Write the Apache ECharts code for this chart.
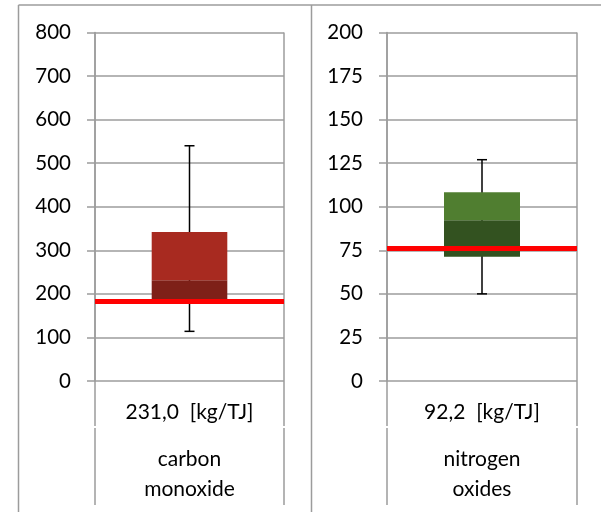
<!DOCTYPE html>
<html>
<head>
<meta charset="utf-8">
<script src="https://cdn.jsdelivr.net/npm/echarts@6/dist/echarts.min.js"></script>
<style>
  html, body { margin: 0; padding: 0; background: #ffffff; }
  #chart { width: 601px; height: 512px; }
</style>
</head>
<body>
<div id="chart"></div>
<script>
// Emission factor distributions, one panel per pollutant
const pollutants   = ['carbon\nmonoxide', 'nitrogen\noxides'];
const valueLabels  = ['231,0  [kg/TJ]', '92,2  [kg/TJ]'];
const whiskerLow   = [114, 50];
const quartile1    = [186, 71.3];
const median       = [231.0, 92.2];
const quartile3    = [342, 108.3];
const whiskerHigh  = [540, 127];
const referenceVal = [182, 76];
const axisMax      = [800, 200];
const axisStep     = [100, 25];
const boxUpper     = ['#a82a20', '#507e30'];
const boxLower     = ['#7e2018', '#335220'];

const GRID_COLOR = '#9c9c9c';
const FONT = 'Lato';

const grids = [
  { left: 95,  right: 317, top: 32.5, bottom: 131 },
  { left: 387, right: 24,  top: 32.5, bottom: 131 }
];

const xAxes = [];
const yAxes = [];
const series = [];

pollutants.forEach((name, i) => {
  // value label row directly under the plot
  xAxes.push({
    type: 'category', gridIndex: i, data: [valueLabels[i]],
    boundaryGap: true,
    axisLine: { show: false },
    axisTick: { show: true, length: 45, lineStyle: { color: GRID_COLOR, width: 1.5 } },
    splitLine: { show: true, lineStyle: { color: GRID_COLOR, width: 1.5 } },
    axisLabel: { margin: 21, color: '#000', fontFamily: FONT, fontSize: 21, interval: 0 }
  });
  // pollutant name row
  xAxes.push({
    type: 'category', gridIndex: i, data: [name], position: 'bottom', offset: 47,
    boundaryGap: true,
    axisLine: { show: false },
    axisTick: { show: true, length: 77, lineStyle: { color: GRID_COLOR, width: 1.5 } },
    splitLine: { show: false },
    axisLabel: { margin: 16, color: '#000', fontFamily: FONT, fontSize: 21, lineHeight: 30, interval: 0 }
  });
  yAxes.push({
    type: 'value', gridIndex: i, min: 0, max: axisMax[i], interval: axisStep[i],
    axisLine: { show: true, lineStyle: { color: GRID_COLOR, width: 1.5 } },
    axisTick: { show: true, length: 8, lineStyle: { color: GRID_COLOR, width: 1.5 } },
    splitLine: { show: true, lineStyle: { color: GRID_COLOR, width: 1.5 } },
    axisLabel: { margin: 24, color: '#000', fontFamily: FONT, fontSize: 20.5 }
  });

  const xi = i * 2;
  // whisker: vertical line from low to high with caps
  series.push({
    type: 'custom', xAxisIndex: xi, yAxisIndex: i, z: 1,
    data: [[0, whiskerLow[i], whiskerHigh[i]]],
    renderItem: (params, api) => {
      const lo = api.coord([api.value(0), api.value(1)]);
      const hi = api.coord([api.value(0), api.value(2)]);
      const cap = 5;
      const style = { stroke: '#000', lineWidth: 1.5 };
      return {
        type: 'group',
        children: [
          { type: 'line', shape: { x1: lo[0], y1: lo[1], x2: hi[0], y2: hi[1] }, style },
          { type: 'line', shape: { x1: lo[0] - cap, y1: lo[1], x2: lo[0] + cap, y2: lo[1] }, style },
          { type: 'line', shape: { x1: hi[0] - cap, y1: hi[1], x2: hi[0] + cap, y2: hi[1] }, style }
        ]
      };
    }
  });
  // box as stacked bars
  series.push({
    type: 'bar', xAxisIndex: xi, yAxisIndex: i, stack: 'box' + i, z: 2,
    barWidth: '40%', data: [quartile1[i]],
    itemStyle: { color: 'rgba(0,0,0,0)' }, silent: true
  });
  series.push({
    type: 'bar', xAxisIndex: xi, yAxisIndex: i, stack: 'box' + i, z: 2,
    barWidth: '40%', data: [+(median[i] - quartile1[i]).toFixed(2)],
    itemStyle: { color: boxLower[i] }
  });
  series.push({
    type: 'bar', xAxisIndex: xi, yAxisIndex: i, stack: 'box' + i, z: 2,
    barWidth: '40%', data: [+(quartile3[i] - median[i]).toFixed(2)],
    itemStyle: { color: boxUpper[i] },
    markLine: {
      silent: true, symbol: 'none', label: { show: false },
      lineStyle: { color: '#ff0000', width: 5, type: 'solid' },
      data: [{ yAxis: referenceVal[i] }]
    }
  });
});

const chart = echarts.init(document.getElementById('chart'), null, { renderer: 'canvas' });
chart.setOption({
  animation: false,
  backgroundColor: '#ffffff',
  grid: grids,
  xAxis: xAxes,
  yAxis: yAxes,
  series: series,
  graphic: [
    { type: 'line', shape: { x1: 18.5, y1: 5, x2: 601, y2: 5 }, style: { stroke: GRID_COLOR, lineWidth: 1.5 } },
    { type: 'line', shape: { x1: 18.5, y1: 5, x2: 18.5, y2: 512 }, style: { stroke: GRID_COLOR, lineWidth: 1.5 } },
    { type: 'line', shape: { x1: 311.5, y1: 5, x2: 311.5, y2: 512 }, style: { stroke: GRID_COLOR, lineWidth: 1.5 } }
  ]
});
</script>
</body>
</html>
